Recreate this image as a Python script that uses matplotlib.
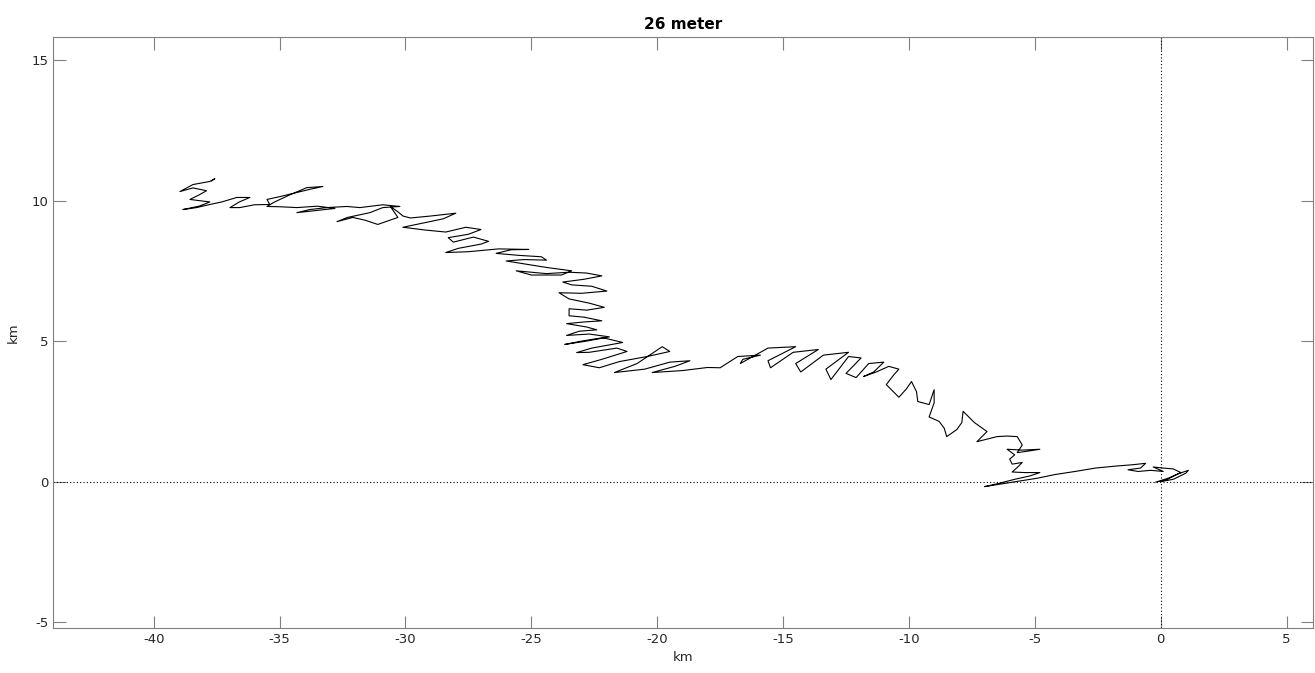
import numpy as np
import matplotlib
matplotlib.use("Agg")
import matplotlib.pyplot as plt

matplotlib.rcParams.update({'font.size': 9.5, 'font.family': 'DejaVu Sans'})
matplotlib.rcParams['axes.unicode_minus'] = False

# progressive vector track (km east, km north), east -> west
east_x = [0.0, 0.5, 1.0, 1.1, 0.7, 0.2, -0.2, 0.3, 0.8, 0.5, 0.1, -0.3, 0.1, -0.4,
          -0.9, -1.3, -0.8, -0.6, -1.1]
east_y = [0.0, 0.08, 0.3, 0.4, 0.28, 0.05, -0.02, 0.12, 0.32, 0.45, 0.48, 0.52, 0.36, 0.4,
          0.36, 0.42, 0.48, 0.65, 0.6]

drift_x = [-1.8, -2.6, -3.4, -4.2, -4.9, -5.6, -6.3, -7.0, -6.5, -5.8, -5.2, -4.8]
drift_y = [0.55, 0.48, 0.36, 0.25, 0.12, 0.02, -0.08, -0.18, -0.08, 0.08, 0.2, 0.32]

zig_x = [-5.4, -5.9, -5.7, -5.5, -5.9, -6.0, -5.8, -6.1, -5.5, -4.8, -5.3, -5.7, -5.5,
         -5.7, -6.1, -6.5, -7.3, -6.9, -7.4, -7.85, -7.9, -8.1, -8.5, -8.6, -8.8, -9.2,
         -9.0, -9.0, -9.2, -9.65, -9.7, -9.9, -10.1, -10.4, -10.9, -10.6, -10.4, -10.8,
         -11.3, -11.8]
zig_y = [0.32, 0.34, 0.5, 0.68, 0.62, 0.8, 0.95, 1.15, 1.12, 1.15, 1.08, 1.03, 1.3,
         1.6, 1.62, 1.6, 1.42, 1.78, 2.1, 2.5, 2.1, 1.85, 1.6, 1.9, 2.14, 2.3,
         2.8, 3.27, 2.74, 2.85, 3.2, 3.56, 3.3, 3.0, 3.45, 3.8, 4.0, 4.1,
         3.9, 3.74]

mid_x = [-11.4, -11.0, -11.6, -12.1, -12.5, -11.9, -12.4, -13.1, -13.3, -12.4, -13.4,
         -14.3, -14.5, -13.6, -14.6, -15.5, -15.6, -14.5, -15.6, -16.7, -16.6, -15.9,
         -16.8, -17.5, -18.0, -19.0, -20.2, -19.3, -18.7, -19.5, -20.5, -21.7, -20.8,
         -19.8, -19.5, -20.4, -21.5, -22.3, -22.95, -22.2, -21.2, -21.6, -22.7, -23.2,
         -22.6, -21.37, -22.16, -23.0, -23.67]
mid_y = [3.9, 4.25, 4.2, 3.7, 3.85, 4.4, 4.45, 3.63, 4.0, 4.6, 4.5,
         3.9, 4.2, 4.7, 4.6, 4.05, 4.3, 4.8, 4.75, 4.2, 4.35, 4.5,
         4.45, 4.05, 4.06, 3.95, 3.88, 4.1, 4.3, 4.25, 4.0, 3.88, 4.2,
         4.8, 4.63, 4.45, 4.27, 4.05, 4.16, 4.35, 4.63, 4.75, 4.6, 4.59,
         4.75, 4.95, 5.12, 5.0, 4.88]

col_x = [-22.8, -21.9, -22.7, -23.6, -23.1, -22.4, -22.8, -23.6, -22.9, -22.2, -22.9,
         -23.5, -23.5, -22.8, -22.1, -22.7, -23.5, -23.9, -23.0, -22.0, -22.6, -23.4,
         -23.75, -22.9, -22.2, -22.8, -23.5]
col_y = [5.0, 5.15, 5.25, 5.2, 5.35, 5.4, 5.5, 5.62, 5.68, 5.72, 5.85,
         5.9, 6.15, 6.1, 6.2, 6.35, 6.5, 6.72, 6.7, 6.78, 6.95, 7.0,
         7.1, 7.2, 7.32, 7.42, 7.45]

nw_x = [-24.4, -25.6, -25.0, -23.8, -23.4, -24.4, -26.0, -25.3, -24.4, -24.6, -25.5,
        -26.4, -25.8, -25.1, -26.3, -27.5, -28.4, -27.9, -27.0, -26.7, -27.3, -28.1,
        -28.3, -27.5, -27.0, -27.6, -28.4, -29.2, -30.1, -29.3, -28.5, -28.0, -29.0,
        -29.8, -30.1, -30.3, -30.6]
nw_y = [7.4, 7.5, 7.35, 7.35, 7.5, 7.62, 7.85, 7.9, 7.88, 8.0, 8.05,
        8.12, 8.25, 8.26, 8.28, 8.18, 8.15, 8.3, 8.45, 8.55, 8.7, 8.52,
        8.68, 8.8, 8.97, 9.05, 8.88, 8.95, 9.05, 9.2, 9.35, 9.55, 9.45,
        9.38, 9.45, 9.6, 9.79]

west_x = [-30.3, -31.1, -31.6, -32.09, -32.72, -32.3, -31.41, -30.9, -30.22, -30.9, -31.81,
          -32.33, -33.12, -33.8, -34.31, -33.5, -32.8, -33.5, -34.31, -35.0, -35.5, -35.2,
          -34.6, -33.92, -33.28, -33.8, -34.99, -35.5, -35.39, -36.0, -36.58, -36.97, -36.6,
          -36.18, -36.7, -37.3, -37.77, -38.3, -38.84, -38.2, -37.77, -38.2, -38.56, -38.2,
          -37.9, -38.44, -38.96, -38.44, -37.77, -37.57, -37.7]
west_y = [9.4, 9.15, 9.3, 9.4, 9.25, 9.4, 9.57, 9.75, 9.79, 9.85, 9.75,
          9.79, 9.75, 9.68, 9.57, 9.65, 9.72, 9.8, 9.75, 9.78, 9.79, 9.95,
          10.2, 10.46, 10.5, 10.4, 10.14, 10.04, 9.86, 9.85, 9.75, 9.75, 9.95,
          10.11, 10.11, 9.95, 9.86, 9.75, 9.68, 9.8, 9.95, 10.0, 10.04, 10.2,
          10.35, 10.45, 10.32, 10.57, 10.68, 10.78, 10.7]

track_x = np.concatenate([east_x, drift_x, zig_x, mid_x, col_x, nw_x, west_x])
track_y = np.concatenate([east_y, drift_y, zig_y, mid_y, col_y, nw_y, west_y])

xticks = [-40, -35, -30, -25, -20, -15, -10, -5, 0, 5]
yticks = [-5, 0, 5, 10, 15]

fig = plt.figure(figsize=(13.15, 6.73), dpi=100)
ax = fig.add_axes([0.0403, 0.0669, 0.9582, 0.8781])

ax.axhline(0, color='black', linestyle=(0, (1, 2)), linewidth=0.8)
ax.axvline(0, color='black', linestyle=(0, (1, 2)), linewidth=0.8)
ax.plot(track_x, track_y, color='black', linewidth=0.8)

ax.set_xlim(-44, 6.05)
ax.set_ylim(-5.21, 15.82)
ax.set_xticks(xticks)
ax.set_yticks(yticks)
ax.tick_params(direction='in', length=9, width=0.8, top=True, right=True,
               colors='#808080', labelcolor='#262626')
for s in ax.spines.values():
    s.set_color('#808080')
    s.set_linewidth(0.8)

ax.set_xlabel('km', color='#262626', labelpad=4)
ax.set_ylabel('km', color='#262626', labelpad=8)
ax.set_title('26 meter', fontweight='bold', fontsize=11, color='black', pad=6)

plt.savefig('out.png', dpi=100)
